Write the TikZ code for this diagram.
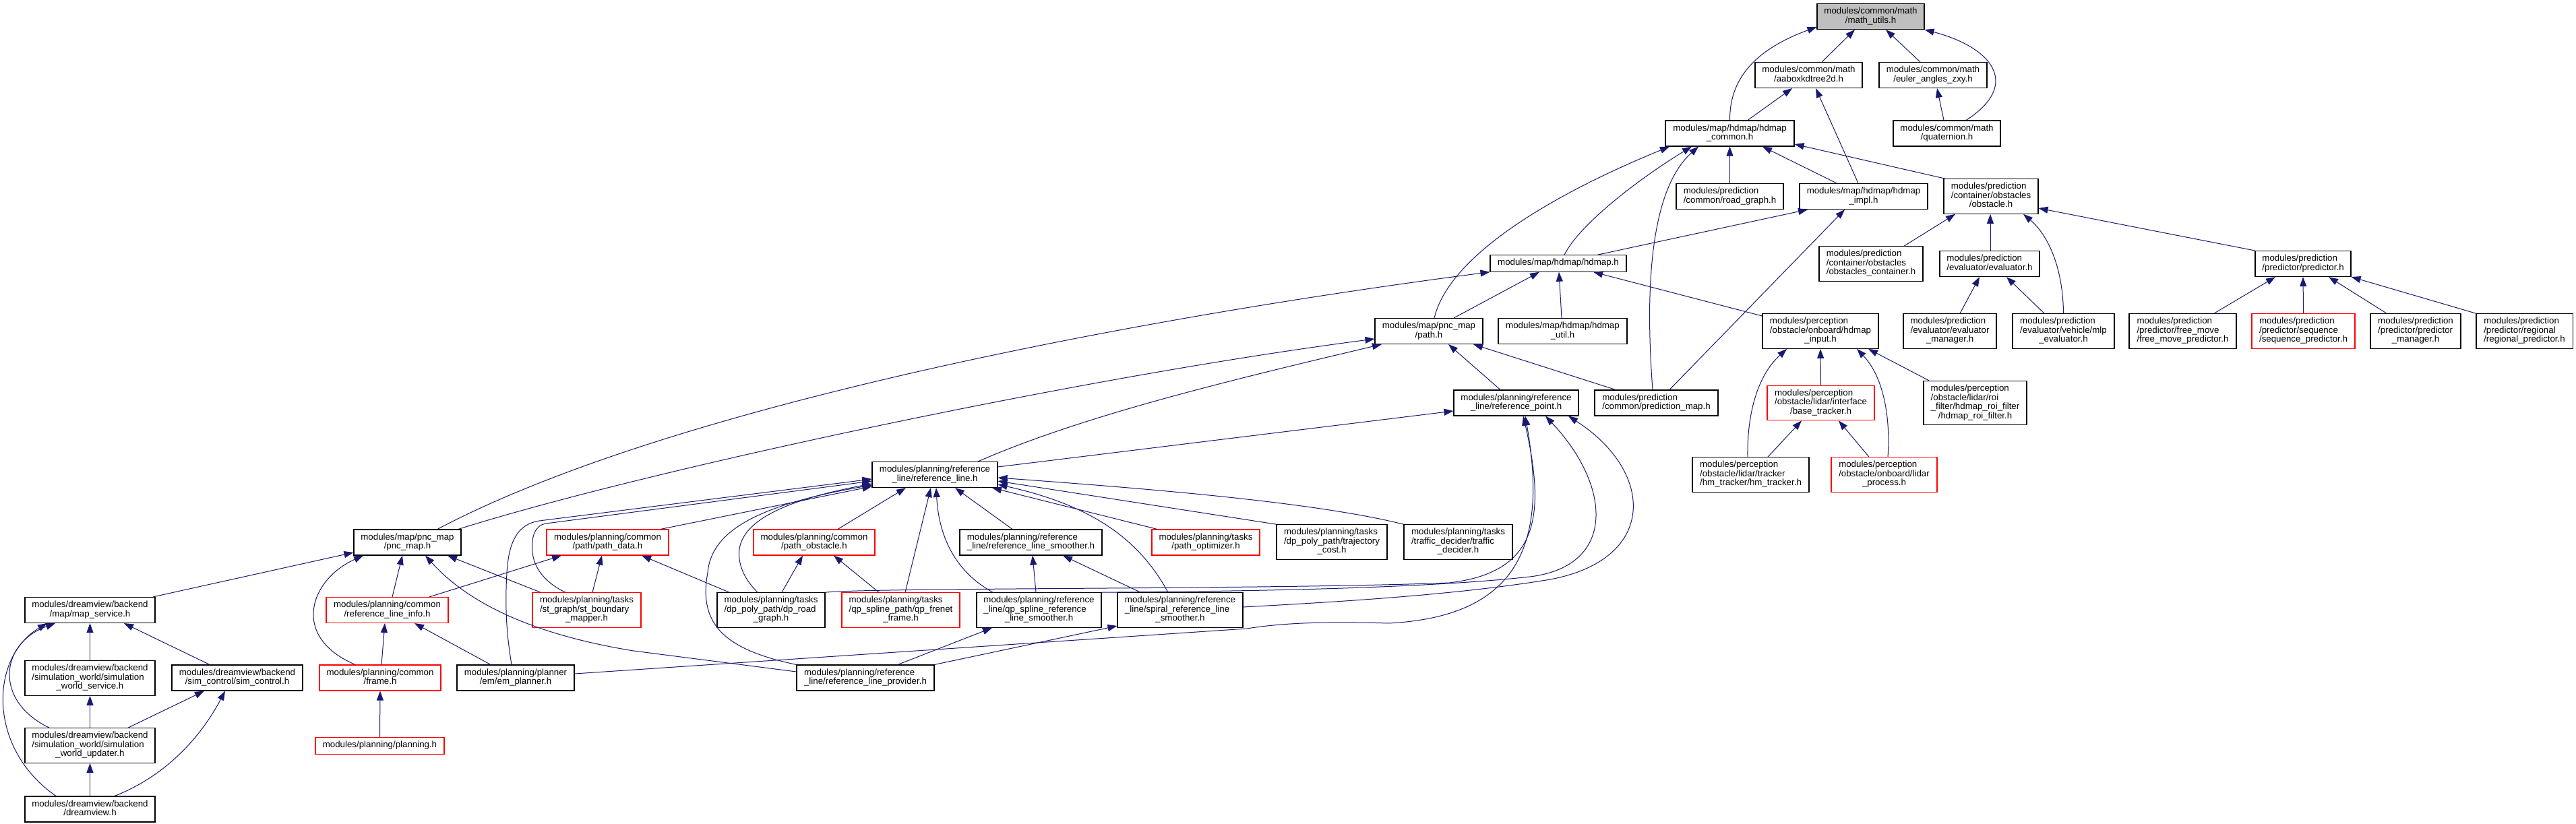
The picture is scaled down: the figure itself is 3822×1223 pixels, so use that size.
\documentclass[tikz,border=0pt]{standalone}
\usepackage{fontspec}
\setmainfont{Liberation Sans}
\usetikzlibrary{arrows.meta}
\definecolor{edgec}{HTML}{191970}
\definecolor{rootg}{HTML}{BFBFBF}
\newcommand\nlbl[2]{\begin{tabular}{@{}l@{}}#1\\\multicolumn{1}{@{}c@{}}{#2}\end{tabular}}
\newcommand\olbl[1]{\begin{tabular}{@{}c@{}}#1\end{tabular}}
\begin{document}
\begin{tikzpicture}[x=1pt,y=-1pt,
 box/.style={draw=black, line width=1.1pt, fill=white, inner xsep=10pt, inner ysep=5.4pt, font=\fontsize{13.3}{13.2}\selectfont},
 redbox/.style={box, draw=red},
 rootbox/.style={box, fill=rootg},
 dep/.style={draw=edgec, line width=1pt, {Triangle[length=14pt,width=10pt]}-}]
\path[use as bounding box, fill=white] (0,0) rectangle (3822,1223);

% ---------- nodes ----------
\node[rootbox, minimum width=159pt] (mu) at (2775.5,24.5) {\nlbl{modules/common/math}{/math\_utils.h}};
\node[box, minimum width=159pt] (aabox) at (2683.5,111.5) {\nlbl{modules/common/math}{/aaboxkdtree2d.h}};
\node[box, minimum width=160pt] (euler) at (2868,111.5) {\nlbl{modules/common/math}{/euler\_angles\_zxy.h}};
\node[box, minimum width=191pt] (hdc) at (2566.5,198) {\nlbl{modules/map/hdmap/hdmap}{\_common.h}};
\node[box, minimum width=159pt] (quat) at (2888.5,198) {\nlbl{modules/common/math}{/quaternion.h}};
\node[box, minimum width=159pt] (roadgraph) at (2566.5,291.5) {\nlbl{modules/prediction}{/common/road\_graph.h}};
\node[box, minimum width=190pt] (hdimpl) at (2765,291.5) {\nlbl{modules/map/hdmap/hdmap}{\_impl.h}};
\node[box, minimum width=140pt] (obstacle) at (2954,291.5) {\nlbl{modules/prediction\\/container/obstacles}{/obstacle.h}};
\node[box, minimum width=154pt] (obscont) at (2776,391.5) {\nlbl{modules/prediction\\/container/obstacles}{/obstacles\_container.h}};
\node[box, minimum width=202pt] (hdmap) at (2312,391) {\olbl{modules/map/hdmap/hdmap.h}};
\node[box, minimum width=148pt] (evaluator) at (2952,391.5) {\nlbl{modules/prediction}{/evaluator/evaluator.h}};
\node[box, minimum width=142pt] (predictor) at (3417,391.5) {\nlbl{modules/prediction}{/predictor/predictor.h}};
\node[box, minimum width=160pt] (path) at (2120,491.5) {\nlbl{modules/map/pnc\_map}{/path.h}};
\node[box, minimum width=191pt] (hdutil) at (2318.5,491.5) {\nlbl{modules/map/hdmap/hdmap}{\_util.h}};
\node[box, minimum width=172pt] (hdinput) at (2701,491.5) {\nlbl{modules/perception\\/obstacle/onboard/hdmap}{\_input.h}};
\node[box, minimum width=138pt] (evalmgr) at (2893,491.5) {\nlbl{modules/prediction\\/evaluator/evaluator}{\_manager.h}};
\node[box, minimum width=151pt] (mlp) at (3061.5,491.5) {\nlbl{modules/prediction\\/evaluator/vehicle/mlp}{\_evaluator.h}};
\node[box, minimum width=159pt] (freemove) at (3238.5,491.5) {\nlbl{modules/prediction\\/predictor/free\_move}{/free\_move\_predictor.h}};
\node[redbox, minimum width=153pt] (sequence) at (3417.5,491.5) {\nlbl{modules/prediction\\/predictor/sequence}{/sequence\_predictor.h}};
\node[box, minimum width=134pt] (predmgr) at (3584,491.5) {\nlbl{modules/prediction\\/predictor/predictor}{\_manager.h}};
\node[box, minimum width=143pt] (regional) at (3745.5,491.5) {\nlbl{modules/prediction\\/predictor/regional}{/regional\_predictor.h}};
\node[box, minimum width=153pt] (roi) at (2930.5,598) {\nlbl{modules/perception\\/obstacle/lidar/roi\\\_filter/hdmap\_roi\_filter}{/hdmap\_roi\_filter.h}};
\node[box, minimum width=185pt] (refpoint) at (2249.5,598) {\nlbl{modules/planning/reference}{\_line/reference\_point.h}};
\node[box, minimum width=183pt] (predmap) at (2457.5,598) {\nlbl{modules/prediction}{/common/prediction\_map.h}};
\node[redbox, minimum width=159pt] (basetracker) at (2701.5,598) {\nlbl{modules/perception\\/obstacle/lidar/interface}{/base\_tracker.h}};
\node[box, minimum width=173pt] (hmtracker) at (2597.5,704.5) {\nlbl{modules/perception\\/obstacle/lidar/tracker}{/hm\_tracker/hm\_tracker.h}};
\node[redbox, minimum width=157pt] (lidarproc) at (2795.5,704.5) {\nlbl{modules/perception\\/obstacle/onboard/lidar}{\_process.h}};
\node[box, minimum width=186pt] (refline) at (1387,704.5) {\nlbl{modules/planning/reference}{\_line/reference\_line.h}};
\node[box, minimum width=164pt] (trajcost) at (1976,804.5) {\nlbl{modules/planning/tasks\\/dp\_poly\_path/trajectory}{\_cost.h}};
\node[box, minimum width=161pt] (traffic) at (2163.5,804.5) {\nlbl{modules/planning/tasks\\/traffic\_decider/traffic}{\_decider.h}};
\node[redbox, minimum width=181pt] (pathdata) at (901.5,805) {\nlbl{modules/planning/common}{/path/path\_data.h}};
\node[redbox, minimum width=180pt] (pathobs) at (1208,805) {\nlbl{modules/planning/common}{/path\_obstacle.h}};
\node[box, minimum width=211pt] (rlsmoother) at (1529.5,805) {\nlbl{modules/planning/reference}{\_line/reference\_line\_smoother.h}};
\node[redbox, minimum width=160pt] (pathopt) at (1789,805) {\nlbl{modules/planning/tasks}{/path\_optimizer.h}};
\node[box, minimum width=159pt] (pncmap) at (604.5,805) {\nlbl{modules/map/pnc\_map}{/pnc\_map.h}};
\node[box, minimum width=193pt] (mapservice) at (133.5,905.5) {\nlbl{modules/dreamview/backend}{/map/map\_service.h}};
\node[redbox, minimum width=181pt] (refinfo) at (574.5,905.5) {\nlbl{modules/planning/common}{/reference\_line\_info.h}};
\node[redbox, minimum width=161pt] (stbound) at (870.5,905.5) {\nlbl{modules/planning/tasks\\/st\_graph/st\_boundary}{\_mapper.h}};
\node[box, minimum width=160pt] (dproad) at (1144,905.5) {\nlbl{modules/planning/tasks\\/dp\_poly\_path/dp\_road}{\_graph.h}};
\node[redbox, minimum width=175pt] (qpfrenet) at (1336.5,905.5) {\nlbl{modules/planning/tasks\\/qp\_spline\_path/qp\_frenet}{\_frame.h}};
\node[box, minimum width=185pt] (qpsmoother) at (1541.5,905.5) {\nlbl{modules/planning/reference\\\_line/qp\_spline\_reference}{\_line\_smoother.h}};
\node[box, minimum width=186pt] (spiral) at (1751,905.5) {\nlbl{modules/planning/reference\\\_line/spiral\_reference\_line}{\_smoother.h}};
\node[box, minimum width=193pt] (worldservice) at (133.5,1006.5) {\nlbl{modules/dreamview/backend\\/simulation\_world/simulation}{\_world\_service.h}};
\node[box, minimum width=194pt] (simcontrol) at (352,1006) {\nlbl{modules/dreamview/backend}{/sim\_control/sim\_control.h}};
\node[redbox, minimum width=180pt] (frame) at (564,1006) {\nlbl{modules/planning/common}{/frame.h}};
\node[box, minimum width=174pt] (emplanner) at (765,1006) {\nlbl{modules/planning/planner}{/em/em\_planner.h}};
\node[box, minimum width=204pt] (provider) at (1284,1006) {\nlbl{modules/planning/reference}{\_line/reference\_line\_provider.h}};
\node[box, minimum width=193pt] (worldupdater) at (133.5,1106.5) {\nlbl{modules/dreamview/backend\\/simulation\_world/simulation}{\_world\_updater.h}};
\node[redbox, minimum width=191pt] (planning) at (563.5,1107) {\olbl{modules/planning/planning.h}};
\node[box, minimum width=193pt] (dreamview) at (133.5,1201) {\nlbl{modules/dreamview/backend}{/dreamview.h}};

% ---------- edges (arrow tip at the included file) ----------
\draw[dep] (mu.west |- 0,40) .. controls (2600,75) and (2566,120) .. (hdc.north);
\draw[dep] (mu.south -| 2752,0) -- (aabox.north -| 2703,0);
\draw[dep] (mu.south -| 2798,0) -- (euler.north -| 2849,0);
\draw[dep] (mu.south east) .. controls (2955,70) and (3000,125) .. (quat.north -| 2917,0);
\draw[dep] (euler.south -| 2874,0) -- (quat.north -| 2884,0);
\draw[dep] (aabox.south -| 2659,0) -- (hdc.north -| 2593,0);
\draw[dep] (aabox.south -| 2694,0) -- (hdimpl.north -| 2757,0);
\draw[dep] (hdc.south -| 2477,0) .. controls (2300,290) and (2150,380) .. (path.north -| 2128,0);
\draw[dep] (hdc.south -| 2510,0) .. controls (2440,260) and (2345,330) .. (hdmap.north -| 2321,0);
\draw[dep] (hdc.south -| 2520,0) .. controls (2450,280) and (2440,420) .. (predmap.north -| 2452,0);
\draw[dep] (hdc.south) -- (roadgraph.north);
\draw[dep] (hdc.south -| 2615,0) -- (hdimpl.north -| 2725,0);
\draw[dep] (hdc.east |- 0,214) -- (obstacle.north -| 2886,0);
\draw[dep] (hdimpl.south -| 2682,0) -- (hdmap.north -| 2370,0);
\draw[dep] (hdimpl.south -| 2737,0) -- (predmap.north -| 2477,0);
\draw[dep] (obstacle.south -| 2901,0) -- (obscont.north -| 2825,0);
\draw[dep] (obstacle.south -| 2953,0) -- (evaluator.north -| 2953,0);
\draw[dep] (obstacle.south -| 3002,0) .. controls (3040,350) and (3061,400) .. (mlp.north);
\draw[dep] (obstacle.east |- 0,309) -- (predictor.north west);
\draw[dep] (evaluator.south -| 2937,0) -- (evalmgr.north -| 2908,0);
\draw[dep] (evaluator.south -| 2977,0) -- (mlp.north -| 3033,0);
\draw[dep] (predictor.south -| 3376,0) -- (freemove.north -| 3285,0);
\draw[dep] (predictor.south) -- (sequence.north);
\draw[dep] (predictor.south -| 3455,0) -- (predmgr.north -| 3541,0);
\draw[dep] (predictor.south east) -- (regional.north west);
\draw[dep] (hdmap.south -| 2284,0) -- (path.north -| 2157,0);
\draw[dep] (hdmap.south -| 2313,0) -- (hdutil.north -| 2317,0);
\draw[dep] (hdmap.south -| 2364,0) -- (hdinput.west |- 0,469);
\draw[dep] (hdmap.south west) .. controls (1700,470) and (1000,600) .. (pncmap.north -| 649,0);
\draw[dep] (path.west |- 0,503) .. controls (1600,560) and (950,700) .. (pncmap.north -| 680,0);
\draw[dep] (path.south -| 2050,0) .. controls (1800,570) and (1600,620) .. (refline.north -| 1451,0);
\draw[dep] (path.south -| 2149,0) -- (refpoint.north -| 2226,0);
\draw[dep] (path.south -| 2186,0) -- (predmap.north -| 2397,0);
\draw[dep] (refpoint.west |- 0,610) -- (refline.east |- 0,693);
\draw[dep] (refpoint.south -| 2260,0) .. controls (2295,770) and (2280,850) .. (2150,865) .. controls (1900,875) and (1300,872) .. (dproad.north east);
\draw[dep] (refpoint.south -| 2293,0) .. controls (2390,720) and (2400,840) .. (2270,856) .. controls (2100,875) and (1800,878) .. (qpsmoother.north east);
\draw[dep] (refpoint.south -| 2327,0) .. controls (2455,700) and (2460,830) .. (2300,860) .. controls (2150,885) and (1950,895) .. (spiral.east |- 0,901);
\draw[dep] (refpoint.south -| 2263,0) .. controls (2295,800) and (2260,915) .. (2060,925) .. controls (1960,922) and (1900,925) .. (1850,933) -- (emplanner.east |- 0,1000);
\draw[dep] (refline.west |- 0,722) -- (pathdata.north -| 980,0);
\draw[dep] (refline.west |- 0,711) -- (800,773) .. controls (770,778) and (755,800) .. (752,850) .. controls (748,920) and (755,960) .. (emplanner.north -| 759,0);
\draw[dep] (refline.west |- 0,714) -- (810,777) .. controls (792,780) and (788,800) .. (790,820) .. controls (793,848) and (815,868) .. (stbound.north -| 839,0);
\draw[dep] (refline.west |- 0,718) .. controls (1150,745) and (1090,780) .. (1097,830) .. controls (1100,850) and (1110,865) .. (dproad.north -| 1124,0);
\draw[dep] (refline.west |- 0,720) .. controls (1120,750) and (1055,790) .. (1050,850) .. controls (1035,930) and (1080,965) .. (provider.north west);
\draw[dep] (refline.south -| 1344,0) -- (pathobs.north -| 1243,0);
\draw[dep] (refline.south -| 1381,0) -- (qpfrenet.north -| 1343,0);
\draw[dep] (refline.south -| 1389,0) .. controls (1393,800) and (1420,850) .. (qpsmoother.north -| 1473,0);
\draw[dep] (refline.south -| 1417,0) -- (rlsmoother.north -| 1502,0);
\draw[dep] (refline.east |- 0,719) .. controls (1620,750) and (1690,800) .. (spiral.north -| 1733,0);
\draw[dep] (refline.south -| 1472,0) -- (pathopt.north -| 1717,0);
\draw[dep] (refline.east |- 0,714) -- (trajcost.north west);
\draw[dep] (refline.east |- 0,709) .. controls (1700,725) and (1950,745) .. (traffic.north west);
\draw[dep] (pncmap.west |- 0,820) -- (mapservice.north -| 227,0);
\draw[dep] (pncmap.south -| 539,0) .. controls (460,860) and (430,945) .. (frame.north -| 527,0);
\draw[dep] (pncmap.south -| 597,0) -- (refinfo.north -| 582,0);
\draw[dep] (pncmap.south -| 631,0) .. controls (690,890) and (780,940) .. (940,966) -- (provider.west |- 0,997);
\draw[dep] (pncmap.south -| 664,0) -- (stbound.north -| 802,0);
\draw[dep] (pathdata.south -| 833,0) -- (refinfo.north -| 637,0);
\draw[dep] (pathdata.south -| 893,0) -- (stbound.north -| 879,0);
\draw[dep] (pathdata.south -| 952,0) -- (dproad.north -| 1082,0);
\draw[dep] (pathobs.south -| 1191,0) -- (dproad.north -| 1160,0);
\draw[dep] (pathobs.south -| 1237,0) -- (qpfrenet.north -| 1304,0);
\draw[dep] (rlsmoother.south -| 1532,0) -- (qpsmoother.north -| 1537,0);
\draw[dep] (rlsmoother.south -| 1577,0) -- (spiral.north -| 1692,0);
\draw[dep] (qpsmoother.south -| 1472,0) -- (provider.north -| 1332,0);
\draw[dep] (spiral.west |- 0,929) -- (provider.north east);
\draw[dep] (refinfo.south -| 571,0) -- (frame.north -| 566,0);
\draw[dep] (refinfo.south -| 615,0) -- (emplanner.north -| 728,0);
\draw[dep] (frame.south) -- (planning.north);
\draw[dep] (mapservice.south) -- (worldservice.north);
\draw[dep] (mapservice.south -| 184,0) -- (simcontrol.north -| 311,0);
\draw[dep] (mapservice.south -| 82,0) .. controls (0,955) and (-10,1040) .. (worldupdater.north -| 73,0);
\draw[dep] (mapservice.south -| 70,0) .. controls (-15,975) and (-20,1110) .. (dreamview.north -| 83,0);
\draw[dep] (worldservice.south) -- (worldupdater.north);
\draw[dep] (simcontrol.south -| 303,0) -- (worldupdater.north -| 190,0);
\draw[dep] (simcontrol.south -| 334,0) .. controls (300,1090) and (250,1150) .. (dreamview.north -| 170,0);
\draw[dep] (worldupdater.south) -- (dreamview.north);
\draw[dep] (hdinput.south) -- (basetracker.north);
\draw[dep] (hdinput.south -| 2651,0) .. controls (2605,560) and (2592,620) .. (hmtracker.north -| 2593,0);
\draw[dep] (hdinput.south -| 2755,0) .. controls (2795,560) and (2805,620) .. (lidarproc.north -| 2801,0);
\draw[dep] (hdinput.south -| 2772,0) -- (roi.north -| 2862,0);
\draw[dep] (basetracker.south -| 2673,0) -- (hmtracker.north -| 2623,0);
\draw[dep] (basetracker.south -| 2728,0) -- (lidarproc.north -| 2773,0);
\end{tikzpicture}
\end{document}
